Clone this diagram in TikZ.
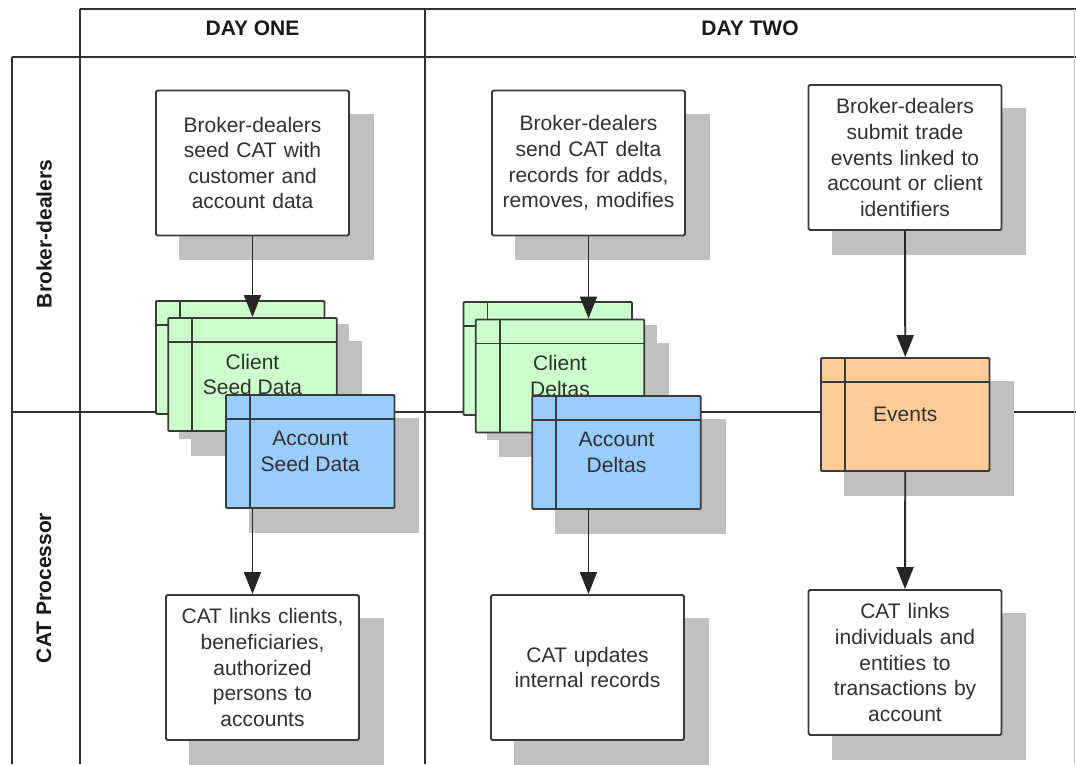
\documentclass[tikz,border=0pt]{standalone}
\usepackage{fontspec}
\setmainfont{Liberation Sans}
\usetikzlibrary{arrows.meta}
\definecolor{linec}{HTML}{303030}
\definecolor{boxline}{HTML}{3A3A3A}
\definecolor{shadowc}{HTML}{C0C0C0}
\definecolor{greenc}{HTML}{CCFFCC}
\definecolor{bluec}{HTML}{99CCFF}
\definecolor{orangec}{HTML}{FFCC99}
\definecolor{textc}{HTML}{303030}
\definecolor{edgec}{HTML}{C8C8C8}
\pgfdeclarelayer{back}
\pgfdeclarelayer{shade}
\pgfsetlayers{back,shade,main}
\begin{document}
\begin{tikzpicture}[x=1pt,y=-1pt,
  every node/.style={font=\fontsize{21}{25.6}\selectfont, text=textc},
  procbox/.style={draw=boxline, line width=1.9pt, fill=white, rounded corners=1.5pt,
    minimum width=193pt, minimum height=145pt, text width=186pt, align=center, inner sep=0pt},
  databox/.style={draw=boxline, line width=1.9pt, rounded corners=1pt,
    minimum width=168.5pt, minimum height=113pt, inner sep=0pt, align=center,
    path picture={\draw[boxline, line width=1.9pt]
      ([xshift=24pt]path picture bounding box.north west) -- ([xshift=24pt]path picture bounding box.south west)
      ([yshift=-24pt]path picture bounding box.north west) -- ([yshift=-24pt]path picture bounding box.north east);}},
  frame/.style={draw=linec, line width=2pt},
  arr/.style={draw=black!85, line width=1.9pt, -{Triangle[length=22pt,width=17pt]}},
  hdr/.style={font=\fontsize{21}{25.6}\selectfont\bfseries, text=black!90}
]
\useasboundingbox (0,0) rectangle (1076,764);

% frame
\coordinate (tl) at (80,8.5);
\coordinate (tr) at (1076,8.5);
\coordinate (hl) at (12,57);
\coordinate (hr) at (1076,57);
\coordinate (ml) at (12,412);
\coordinate (mr) at (1076,412);
\coordinate (bl) at (12,764);
\coordinate (bc) at (80,764);
\coordinate (dt) at (425,8.5);
\coordinate (db) at (425,764);
\coordinate (rt) at (1074.5,8.5);
\coordinate (rb) at (1074.5,764);
\begin{pgfonlayer}{back}
  \draw[frame] (tl) -- (tr);
  \draw[frame] (hl) -- (hr);
  \draw[frame] (ml) -- (mr);
  \draw[frame] (hl) -- (bl);
  \draw[frame] (tl) -- (bc);
  \draw[frame] (dt) -- (db);
  \draw[edgec, line width=1.2pt] (rt) -- (rb);
\end{pgfonlayer}

% headers
\node[hdr] (d1) at (252.5,28.5) {DAY ONE};
\node[hdr] (d2) at (750,28.5) {DAY TWO};
\node[hdr, rotate=90] (l1) at (44,234) {Broker-dealers};
\node[hdr, rotate=90] (l2) at (44,588) {CAT Processor};

% process boxes
\node[procbox] (b1) at (252.5,163) {Broker-dealers\\seed CAT with\\customer and\\account data};
\node[procbox] (b2) at (588.5,163) {Broker-dealers\\send CAT delta\\records for adds,\\removes, modifies};
\node[procbox] (b3) at (905,157.5) {Broker-dealers\\submit trade\\events linked to\\account or client\\identifiers};
\node[procbox] (b4) at (262.5,667.5) {CAT links clients,\\beneficiaries,\\authorized\\persons to\\accounts};
\node[procbox] (b5) at (587.5,667.5) {CAT updates\\internal records};
\node[procbox] (b6) at (905,662.5) {CAT links\\individuals and\\entities to\\transactions by\\account};

% data boxes
\node[databox, fill=greenc] (g1b) at (240.25,357.5) {};
\node[databox, fill=greenc] (g1f) at (252.5,374.5) {Client\\Seed Data};
\node[databox, fill=bluec] (u1) at (310.25,451.5) {Account\\Seed Data};
\node[databox, fill=greenc] (g2b) at (547.75,358.5) {};
\node[databox, fill=greenc] (g2f) at (560,376) {Client\\Deltas};
\node[databox, fill=bluec] (u2) at (616.5,452.5) {Account\\Deltas};
\node[databox, fill=orangec] (ev) at (905.25,414.5) {Events};

% shadows
\begin{pgfonlayer}{shade}
  \foreach \n in {b1,b2,b3,b4,b5,b6,g1b,g1f,u1,g2b,g2f,u2,ev}{
    \fill[shadowc] ([shift={(24,24)}]\n.north west) rectangle ([shift={(24,24)}]\n.south east);
  }
\end{pgfonlayer}

% connectors
\draw[arr] (b1.south) -- (g1f.north);
\draw[arr] (g1f.south |- u1.south) -- (g1f.south |- b4.north);
\draw[arr] (b2.south) -- (b2.south |- g2f.north);
\draw[arr] (b2.south |- u2.south) -- (b2.south |- b5.north);
\draw[arr] (b3.south) -- (ev.north);
\draw[arr] (ev.south) -- (b6.north);
\end{tikzpicture}
\end{document}
